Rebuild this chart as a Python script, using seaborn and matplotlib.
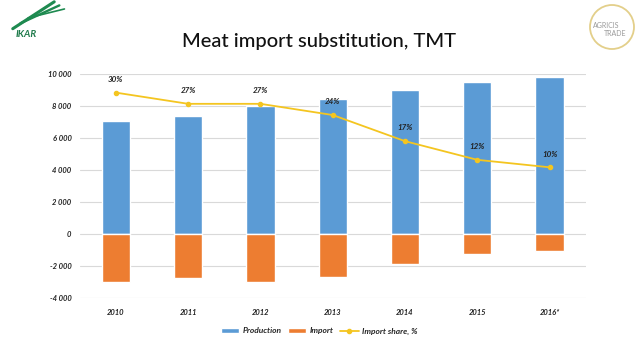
import matplotlib
matplotlib.use("Agg")
import matplotlib.pyplot as plt
import matplotlib.ticker as mticker
from matplotlib.patches import Patch, Ellipse
from matplotlib.lines import Line2D
import seaborn as sns
import pandas as pd

years = ["2010", "2011", "2012", "2013", "2014", "2015", "2016*"]
production = [7060, 7400, 8000, 8450, 8980, 9480, 9800]
imports = [-3020, -2770, -3000, -2670, -1850, -1250, -1040]
share = [30, 27, 27, 24, 17, 12, 10]
share_labels = ["30%", "27%", "27%", "24%", "17%", "12%", "10%"]

BLUE = "#5B9BD5"
ORANGE = "#ED7D31"
YELLOW = "#F4C520"

sns.set_theme(style="white")
plt.rcParams["font.family"] = ["Lato", "DejaVu Sans"]

fig = plt.figure(figsize=(6.38, 3.59), dpi=100)
ax = fig.add_axes([0.125, 0.170, 0.793, 0.624])

df = pd.DataFrame({
    "year": years * 2,
    "value": production + imports,
    "series": ["Production"] * len(years) + ["Import"] * len(years),
})
sns.barplot(data=df, x="year", y="value", hue="series", dodge=False,
            palette={"Production": BLUE, "Import": ORANGE}, width=0.39,
            saturation=1, ax=ax, legend=False)

ax.set_ylim(-4000, 10000)
ax.set_xlim(-0.5, len(years) - 0.5)
ax.set_yticks(range(-4000, 10001, 2000))
ax.yaxis.set_major_formatter(mticker.FuncFormatter(
    lambda v, p: f"{int(v):,}".replace(",", " ")))
ax.grid(axis="y", color="#D9D9D9", linewidth=0.8)
ax.set_axisbelow(True)
for s in ax.spines.values():
    s.set_visible(False)
ax.set_xlabel("")
ax.set_ylabel("")
ax.tick_params(axis="both", length=0, labelsize=5.5, pad=6)
for lab in ax.get_xticklabels() + ax.get_yticklabels():
    lab.set_fontweight("bold")
    lab.set_fontstyle("italic")
    lab.set_color("#222222")
ax.tick_params(axis="x", pad=8)

ax2 = ax.twinx()
sns.pointplot(x=years, y=share, color=YELLOW, markers="o", markersize=3,
              linewidth=1.3, ax=ax2, errorbar=None)
ax2.set_ylim(-25, 35)
ax2.set_xlim(-0.5, len(years) - 0.5)
ax2.set_yticks([])
for s in ax2.spines.values():
    s.set_visible(False)
for i, (v, t) in enumerate(zip(share, share_labels)):
    ax2.annotate(t, (i, v), xytext=(0, 7), textcoords="offset points",
                 ha="center", va="bottom", fontsize=5.8, fontweight="bold",
                 fontstyle="italic", color="#222222")

handles = [Patch(facecolor=BLUE, label="Production"),
           Patch(facecolor=ORANGE, label="Import"),
           Line2D([0], [0], color=YELLOW, marker="o", markersize=3,
                  linewidth=1.3, label="Import share, %")]
leg = fig.legend(handles=handles, loc="center", bbox_to_anchor=(0.5, 0.078),
                 ncol=3, frameon=False, handlelength=2.2, handleheight=0.6,
                 columnspacing=0.8, handletextpad=0.4,
                 prop={"size": 6, "weight": "bold", "style": "italic"})

fig.text(0.5, 0.885, "Meat import substitution, TMT", ha="center",
         va="center", fontsize=14.5, fontweight="medium", color="#111111")

# logos (approximated)
fig.text(0.025, 0.905, "IKAR", ha="left", va="center", fontsize=7,
         fontweight="bold", fontstyle="italic", color="#1E7A4A")
for k, (y0, y1) in enumerate([(0.93, 0.995), (0.945, 0.985), (0.96, 0.975)]):
    fig.add_artist(Line2D([0.02 + 0.012 * k, 0.085 + 0.008 * k],
                          [y0 - 0.01, y1], color="#1E8A50",
                          linewidth=2.2 - 0.5 * k, transform=fig.transFigure))
ell = Ellipse((612 / 638, 1 - 27 / 359), 44 / 638, 44 / 359,
              transform=fig.transFigure, fill=False, edgecolor="#E3CF8A",
              linewidth=1.3)
fig.add_artist(ell)
fig.text(606 / 638, 1 - 25 / 359, "AGRICIS", ha="center", va="center",
         fontsize=5, color="#9A9A9A")
fig.text(615 / 638, 1 - 34 / 359, "TRADE", ha="center", va="center",
         fontsize=5, color="#9A9A9A")

fig.savefig("out.png", dpi=100)
